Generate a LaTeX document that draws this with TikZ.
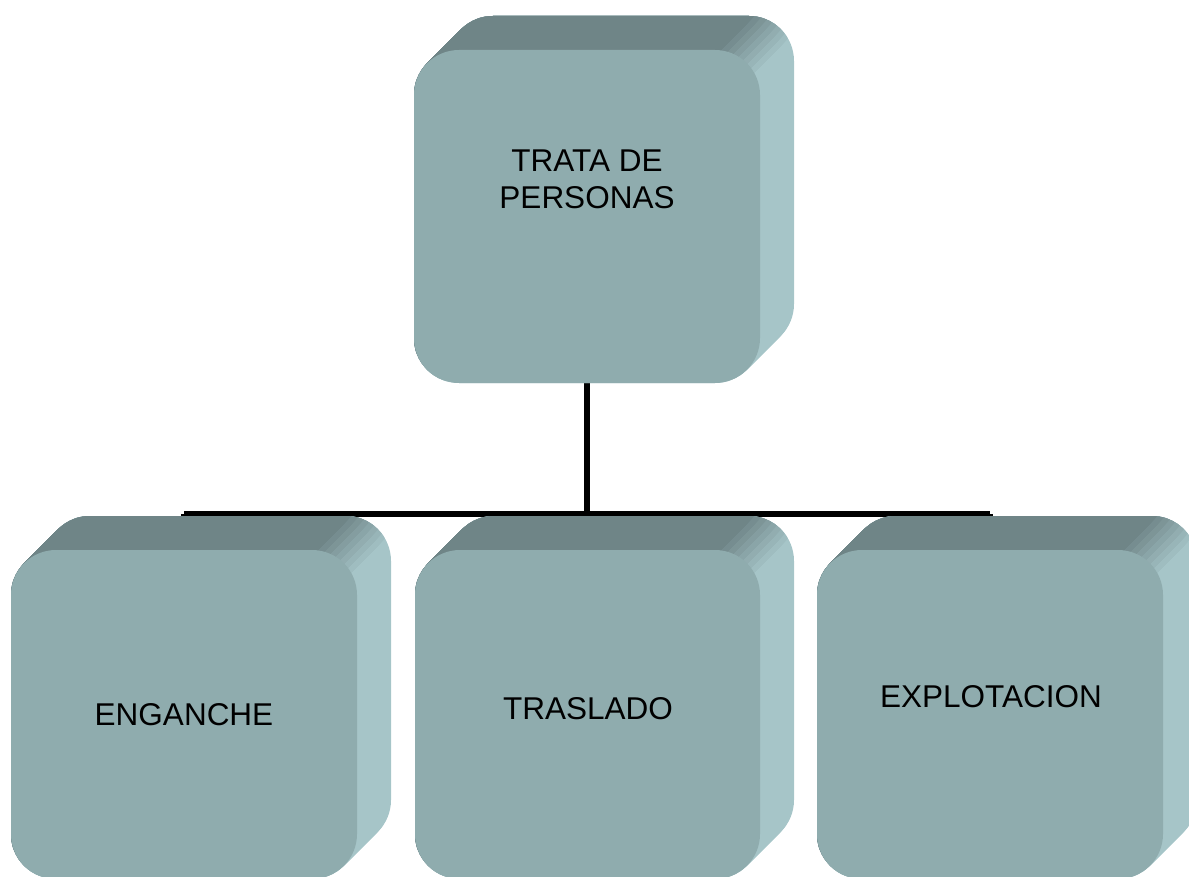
\documentclass[tikz,border=0pt]{standalone}
\usepackage{fontspec}
\setmainfont{Liberation Sans}
\definecolor{facec}{RGB}{143,172,174}
\definecolor{topc}{RGB}{111,133,135}
\definecolor{sidec}{RGB}{166,197,200}
\pgfdeclarelayer{bg}
\pgfsetlayers{bg,main}
\tikzset{
  face/.style={fill=facec, draw=none, rounded corners=45pt, inner sep=0pt, outer sep=0pt},
  lbl/.style={font=\fontsize{31.5pt}{37pt}\selectfont, text=black, align=center, inner sep=0pt},
  conn/.style={line width=5.5pt, black, line cap=butt},
}
% name, x1, y1, x2, y2 (image coordinates, y downwards)
\newcommand\solidbox[5]{%
  \foreach \t in {0,...,34}{\fill[sidec, rounded corners=45pt, shift={(\t,-\t)}] (#2,#3) rectangle (#4,#5);}
  \foreach \s/\m in {-8/12,-4/25,0/37,4/50,8/62,12/75,16/87,20/100}{%
    \begin{scope}
      \clip ({#4-13.2-\s-2000},{#3+13.2-\s+2000}) -- ({#4-13.2-\s+2000},{#3+13.2-\s-2000}) -- ({#4-13.2-\s-2000},{#3+13.2-\s-2000}) -- cycle;
      \foreach \t in {0,...,34}{\fill[topc!\m!sidec, rounded corners=45pt, shift={(\t,-\t)}] (#2,#3) rectangle (#4,#5);}
    \end{scope}}
  \node[face, minimum width={(#4-#2)*1pt}, minimum height={(#5-#3)*1pt}] (#1) at ({(#2+#4)/2},{(#3+#5)/2}) {};
}
\begin{document}
\begin{tikzpicture}[x=1pt,y=-1pt]
\useasboundingbox (0,0) rectangle (1189,877);
\clip (0,0) rectangle (1189,877);
\solidbox{top}{414}{50}{760}{383}
\solidbox{c1}{11}{550}{357}{879}
\solidbox{c2}{415}{550}{760}{879}
\solidbox{c3}{817}{550}{1163}{879}
\node[lbl] (ttop) at (587,179) {TRATA DE\\PERSONAS};
\node[lbl, anchor=base] (t1) at (184,725) {ENGANCHE};
\node[lbl, anchor=base] (t2) at (588,719) {TRASLADO};
\node[lbl, anchor=base] (t3) at (991,707) {EXPLOTACION};
\coordinate (bar) at (0,514);
\begin{pgfonlayer}{bg}
\draw[conn] (top.south) -- (top.south |- bar);
\draw[conn] (c1.north |- bar) -- (c3.north |- bar);
\draw[conn] (c1.north |- bar) -- (c1.north);
\draw[conn] (c2.north |- bar) -- (c2.north);
\draw[conn] (c3.north |- bar) -- (c3.north);
\end{pgfonlayer}
\end{tikzpicture}
\end{document}
